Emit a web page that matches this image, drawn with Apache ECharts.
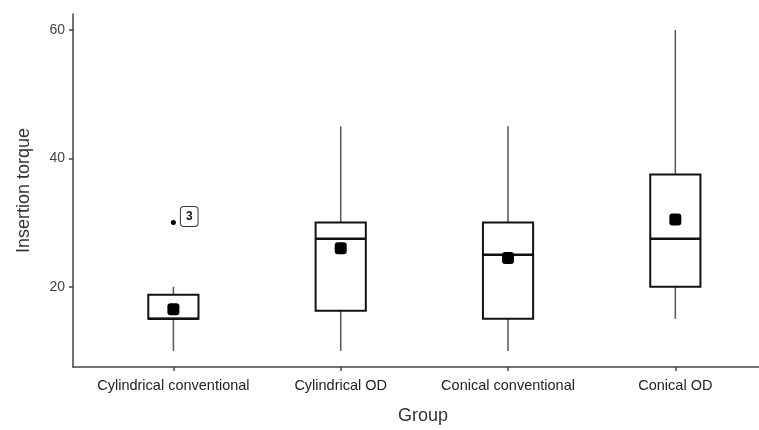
<!doctype html>
<html lang="en">
<head>
    <meta charset="UTF-8">
    <script src="https://cdn.jsdelivr.net/npm/echarts@6/dist/echarts.min.js"></script>
    <title>Insertion torque by group</title>
    <style>
        body { margin: 0; background: #fff; }
    </style>
</head>
<body>
<div id="main" style="width: 759px;height:430px;"></div>
<script>
    // groups on the x axis (placed at 1..4)
    var groups = ['Cylindrical conventional', 'Cylindrical OD', 'Conical conventional', 'Conical OD'];
    // box statistics
    var lowWhisker = [10, 10, 10, 15];
    var q1 = [15, 16.25, 15, 20];
    var median = [15, 27.5, 25, 27.5];
    var q3 = [18.75, 30, 30, 37.5];
    var highWhisker = [20, 45, 45, 60];
    var means = [16.5, 26, 24.5, 30.5];
    // outliers: [group position, value] and their labels
    var outliers = [[1, 30]];
    var outlierLabels = ['3'];
    var yTicks = [20, 40, 60];

    var boxData = [];
    var meanData = [];
    for (var i = 0; i < groups.length; i++) {
        boxData.push([i + 1, lowWhisker[i], q1[i], median[i], q3[i], highWhisker[i]]);
        meanData.push([i + 1, means[i]]);
    }

    var myChart = echarts.init(document.getElementById('main'));

    function renderBox(params, api) {
        var x = api.value(0);
        var pLow = api.coord([x, api.value(1)]);
        var pQ1 = api.coord([x, api.value(2)]);
        var pMed = api.coord([x, api.value(3)]);
        var pQ3 = api.coord([x, api.value(4)]);
        var pHigh = api.coord([x, api.value(5)]);
        var half = api.size([0.3, 0])[0] / 2;
        var cx = pMed[0];
        var whisker = {stroke: '#555', lineWidth: 1.5};
        return {
            type: 'group',
            children: [
                {type: 'line', shape: {x1: cx, y1: pQ3[1], x2: cx, y2: pHigh[1]}, style: whisker},
                {type: 'line', shape: {x1: cx, y1: pQ1[1], x2: cx, y2: pLow[1]}, style: whisker},
                {
                    type: 'rect',
                    shape: {x: cx - half, y: pQ3[1], width: half * 2, height: pQ1[1] - pQ3[1]},
                    style: {fill: '#fff', stroke: '#111', lineWidth: 2}
                },
                {
                    type: 'line',
                    shape: {x1: cx - half, y1: pMed[1], x2: cx + half, y2: pMed[1]},
                    style: {stroke: '#111', lineWidth: 2.5}
                }
            ]
        };
    }

    var option = {
        animation: false,
        grid: {
            left: 73,
            right: 0,
            top: 14,
            bottom: 56
        },
        xAxis: {
            type: 'value',
            min: 0.4,
            max: 4.5,
            name: 'Group',
            nameLocation: 'middle',
            nameGap: 40,
            nameTextStyle: {fontSize: 18, color: '#333', fontFamily: 'Liberation Sans', padding: [0, 0, 0, 14]},
            axisLine: {lineStyle: {color: '#444', width: 1.5}},
            axisTick: {show: true, length: 4, customValues: [1, 2, 3, 4], lineStyle: {color: '#444', width: 1.5}},
            axisLabel: {
                customValues: [1, 2, 3, 4],
                margin: 11,
                fontSize: 14.5,
                color: '#222',
                fontFamily: 'Liberation Sans',
                formatter: function (v) { return groups[Math.round(v) - 1]; }
            },
            splitLine: {show: false}
        },
        yAxis: {
            type: 'value',
            min: 7.5,
            max: 62.5,
            name: 'Insertion torque',
            nameLocation: 'middle',
            nameGap: 40,
            nameTextStyle: {fontSize: 18, color: '#333', fontFamily: 'Liberation Sans'},
            axisLine: {show: true, lineStyle: {color: '#444', width: 1.5}},
            axisTick: {show: true, length: 4, customValues: yTicks, lineStyle: {color: '#444', width: 1.5}},
            axisLabel: {
                customValues: yTicks,
                margin: 8,
                fontSize: 14,
                color: '#444',
                fontFamily: 'Liberation Sans'
            },
            splitLine: {show: false}
        },
        series: [
            {
                name: 'box',
                type: 'custom',
                renderItem: renderBox,
                encode: {x: 0, y: [1, 2, 3, 4, 5]},
                data: boxData,
                z: 2
            },
            {
                name: 'mean',
                type: 'scatter',
                symbol: 'roundRect',
                symbolSize: 12,
                itemStyle: {color: '#000', opacity: 1},
                data: meanData,
                z: 3
            },
            {
                name: 'outlier',
                type: 'scatter',
                symbolSize: 5,
                itemStyle: {color: '#000', opacity: 1},
                label: {
                    show: true,
                    position: 'right',
                    distance: 5,
                    offset: [0, -6],
                    formatter: function (p) { return outlierLabels[p.dataIndex]; },
                    fontSize: 12,
                    fontWeight: 'bold',
                    color: '#111',
                    backgroundColor: '#fff',
                    borderColor: '#333',
                    borderWidth: 1,
                    borderRadius: 3,
                    padding: [4, 5, 3, 5]
                },
                data: outliers,
                z: 3
            }
        ]
    };

    myChart.setOption(option);
</script>
</body>
</html>
